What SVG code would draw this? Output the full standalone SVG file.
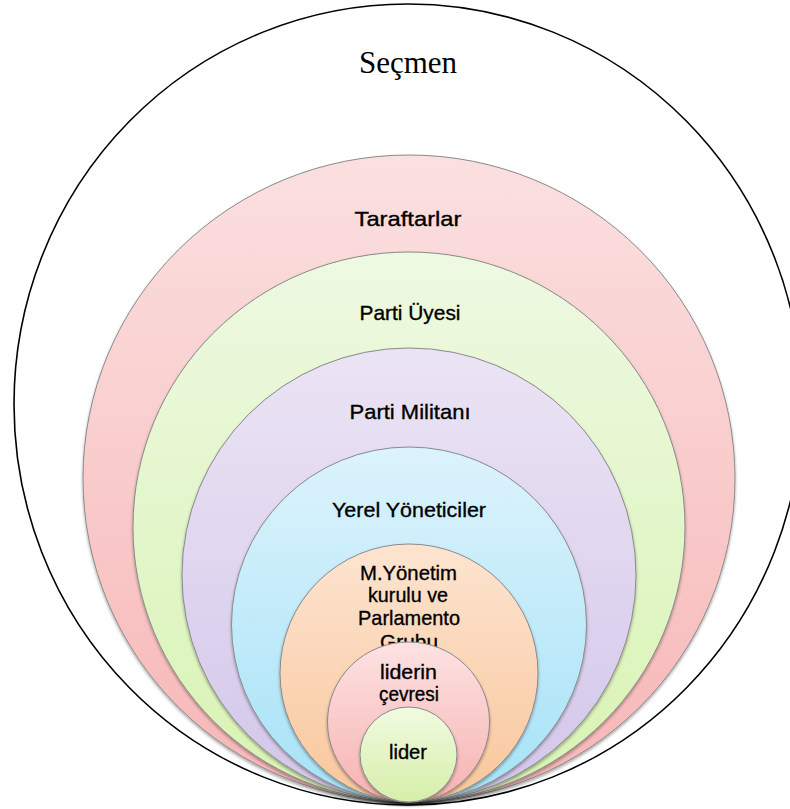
<svg xmlns="http://www.w3.org/2000/svg" width="790" height="809" viewBox="0 0 790 809">
<style>
.ring{stroke:#8a8a8a;stroke-width:1;filter:url(#sh)}
.lbl{font-family:"Liberation Sans",Arial,sans-serif;font-size:21px;fill:#000;stroke:#000;stroke-width:0.35;text-anchor:middle}
.ttl{font-family:"Liberation Serif","Times New Roman",serif;font-size:31px;fill:#000;text-anchor:middle}
</style>
<defs>
<filter id="sh" x="-10%" y="-10%" width="120%" height="120%">
<feDropShadow dx="0" dy="2" stdDeviation="1.5" flood-color="#000" flood-opacity="0.35"/>
</filter>
<linearGradient id="gPink" x1="0" y1="0" x2="0" y2="1"><stop offset="0" stop-color="#fbe0e0"/><stop offset="1" stop-color="#f7b6b6"/></linearGradient>
<linearGradient id="gGreen" x1="0" y1="0" x2="0" y2="1"><stop offset="0" stop-color="#eef9e2"/><stop offset="1" stop-color="#d8f3b2"/></linearGradient>
<linearGradient id="gPurple" x1="0" y1="0" x2="0" y2="1"><stop offset="0" stop-color="#ebe4f4"/><stop offset="1" stop-color="#d3c6ea"/></linearGradient>
<linearGradient id="gBlue" x1="0" y1="0" x2="0" y2="1"><stop offset="0" stop-color="#dcf3fc"/><stop offset="1" stop-color="#a6e2f7"/></linearGradient>
<linearGradient id="gOrange" x1="0" y1="0" x2="0" y2="1"><stop offset="0" stop-color="#fde4d0"/><stop offset="1" stop-color="#f8c79c"/></linearGradient>
<linearGradient id="gPink2" x1="0" y1="0" x2="0" y2="1"><stop offset="0" stop-color="#fde2e2"/><stop offset="1" stop-color="#f7b2b2"/></linearGradient>
<linearGradient id="gGreen2" x1="0" y1="0" x2="0" y2="1"><stop offset="0" stop-color="#f1fbe0"/><stop offset="1" stop-color="#d6efaa"/></linearGradient>
</defs>

<g id="secmen">
<ellipse cx="408" cy="404.5" rx="394" ry="400.5" fill="#fff" stroke="#000" stroke-width="1.6"/>
<text class="ttl" x="408" y="73">Seçmen</text>
</g>

<g id="taraftarlar">
<ellipse class="ring" cx="409" cy="478.5" rx="326" ry="323.5" fill="url(#gPink)"/>
<text class="lbl" x="408" y="226" textLength="107" lengthAdjust="spacingAndGlyphs">Taraftarlar</text>
</g>

<g id="parti-uyesi">
<ellipse class="ring" cx="409" cy="527" rx="276" ry="275" fill="url(#gGreen)"/>
<text class="lbl" x="410" y="320" textLength="101" lengthAdjust="spacingAndGlyphs">Parti Üyesi</text>
</g>

<g id="parti-militani">
<ellipse class="ring" cx="409" cy="575" rx="227" ry="227" fill="url(#gPurple)"/>
<text class="lbl" x="410" y="419" textLength="121" lengthAdjust="spacingAndGlyphs">Parti Militanı</text>
</g>

<g id="yerel-yoneticiler">
<ellipse class="ring" cx="409" cy="624.5" rx="177.5" ry="177.5" fill="url(#gBlue)"/>
<text class="lbl" x="409" y="517" textLength="154" lengthAdjust="spacingAndGlyphs">Yerel Yöneticiler</text>
</g>

<g id="m-yonetim">
<ellipse class="ring" cx="409" cy="673" rx="129" ry="129" fill="url(#gOrange)"/>
<text class="lbl" x="408.5" y="580" textLength="97" lengthAdjust="spacingAndGlyphs">M.Yönetim</text>
<text class="lbl" x="408" y="602" textLength="80" lengthAdjust="spacingAndGlyphs">kurulu ve</text>
<text class="lbl" x="409" y="625" textLength="102" lengthAdjust="spacingAndGlyphs">Parlamento</text>
<text class="lbl" x="409" y="649" textLength="58" lengthAdjust="spacingAndGlyphs">Grubu</text>
</g>

<g id="liderin-cevresi">
<ellipse class="ring" cx="408.5" cy="722" rx="81" ry="80" fill="url(#gPink2)"/>
<text class="lbl" x="408.5" y="679" textLength="57" lengthAdjust="spacingAndGlyphs">liderin</text>
<text class="lbl" x="409" y="701" textLength="60" lengthAdjust="spacingAndGlyphs">çevresi</text>
</g>

<g id="lider">
<ellipse class="ring" cx="408.5" cy="754.5" rx="48.5" ry="47.5" fill="url(#gGreen2)"/>
<text class="lbl" x="408" y="759" textLength="38" lengthAdjust="spacingAndGlyphs">lider</text>
</g>

<g id="connectors"></g>
</svg>
